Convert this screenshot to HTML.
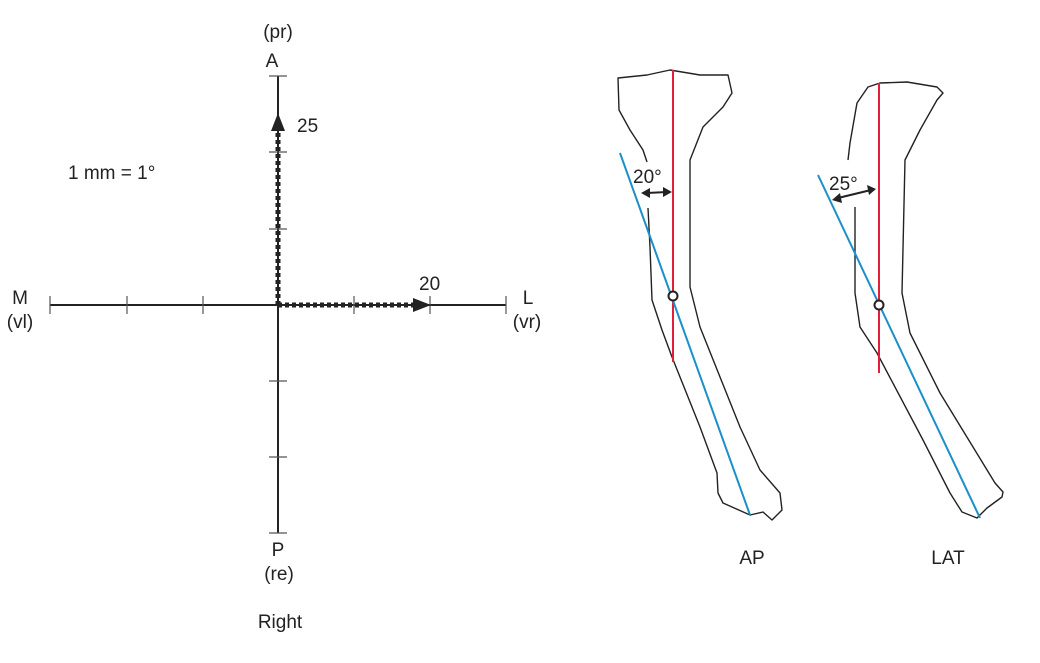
<!DOCTYPE html>
<html><head><meta charset="utf-8"><style>
html,body{margin:0;padding:0;background:#fff;}
svg{display:block;}
text{font-family:"Liberation Sans",sans-serif;font-size:19px;fill:#222;}
</style></head><body>
<svg width="1040" height="663" viewBox="0 0 1040 663" xmlns="http://www.w3.org/2000/svg">
<g stroke="#222" stroke-width="2" fill="none">
<line x1="50" y1="305" x2="506" y2="305"/>
<line x1="278" y1="76" x2="278" y2="533"/>
</g>
<g stroke="#555" stroke-width="1.2">
<line x1="50" y1="296" x2="50" y2="314"/><line x1="127" y1="296" x2="127" y2="314"/>
<line x1="203" y1="296" x2="203" y2="314"/><line x1="354" y1="296" x2="354" y2="314"/>
<line x1="430" y1="296" x2="430" y2="314"/><line x1="506" y1="296" x2="506" y2="314"/>
<line x1="269" y1="76" x2="287" y2="76"/><line x1="269" y1="152" x2="287" y2="152"/>
<line x1="269" y1="229" x2="287" y2="229"/><line x1="269" y1="381" x2="287" y2="381"/>
<line x1="269" y1="457" x2="287" y2="457"/><line x1="269" y1="533" x2="287" y2="533"/>
</g>
<g stroke="#222" stroke-width="5" stroke-dasharray="4,3" fill="none">
<line x1="278" y1="305" x2="278" y2="128"/>
<line x1="278" y1="305" x2="418" y2="305"/>
</g>
<polygon points="278,113 271,131 285,131" fill="#222"/>
<polygon points="431,305 413,298 413,312" fill="#222"/>
<g text-anchor="middle">
<text x="278" y="38">(pr)</text>
<text x="272" y="67">A</text>
<text x="20" y="304">M</text>
<text x="20" y="328">(vl)</text>
<text x="528" y="304">L</text>
<text x="527" y="328">(vr)</text>
<text x="278" y="556">P</text>
<text x="279" y="580">(re)</text>
<text x="280" y="628">Right</text>
<text x="752" y="564">AP</text>
<text x="948" y="564">LAT</text>
</g>
<text x="297" y="132">25</text>
<text x="68" y="179">1 mm = 1°</text>
<text x="419" y="290">20</text>
<!-- bones -->
<g stroke="#222" stroke-width="1.4" fill="none" stroke-linejoin="round">
<path d="M647,162 L643,150 L630,130 L619,110 L618,78 L647,75 L670,70 L700,75 L728,75 L732,93 L723,107 L703,127 L690,160 L690,287 L700,327 L740,427 L760,470 L780,493 L782,510 L772,520 L763,512 L750,515 L723,503 L718,493 L717,473 L700,427 L672,357 L662,330 L652,300 L650,247 L648,208"/>
<path d="M855,207 L855,293 L860,327 L877,353 L923,440 L950,493 L962,512 L977,518 L987,508 L1002,497 L1003,492 L995,483 L940,393 L910,333 L902,293 L905,160 L920,130 L937,100 L943,93 L937,87 L907,82 L880,83 L868,87 L857,103 L850,143 L848,160"/>
</g>
<line x1="673" y1="70" x2="673" y2="362" stroke="#e0203a" stroke-width="2"/>
<line x1="620" y1="153" x2="750" y2="515" stroke="#1a8fc8" stroke-width="2"/>
<circle cx="673" cy="296" r="4.5" fill="#fff" stroke="#222" stroke-width="2"/>
<line x1="879" y1="83" x2="879" y2="373" stroke="#e0203a" stroke-width="2"/>
<line x1="818" y1="175" x2="980" y2="518" stroke="#1a8fc8" stroke-width="2"/>
<circle cx="879" cy="305" r="4.5" fill="#fff" stroke="#222" stroke-width="2"/>
<g stroke="#222" stroke-width="2">
<line x1="647" y1="193" x2="667" y2="192"/>
<line x1="838" y1="198" x2="871" y2="190"/>
</g>
<polygon points="641,193 650,188 650,198" fill="#222"/>
<polygon points="672,192 663,187 663,197" fill="#222"/>
<polygon points="832,200 840,193 842,203" fill="#222"/>
<polygon points="876,189 867,185 869,195" fill="#222"/>
<text x="633" y="183">20°</text>
<text x="829" y="190">25°</text>
</svg>
</body></html>
